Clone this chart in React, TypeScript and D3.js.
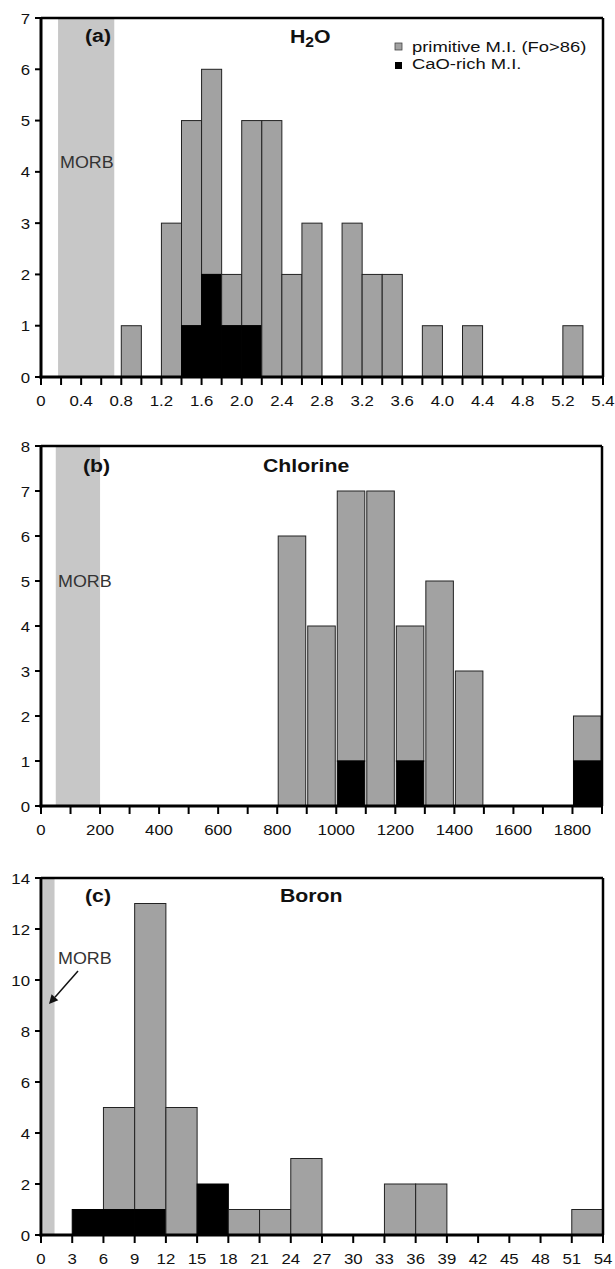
import React from "react";
import * as d3 from "d3";

// ---------- data ----------
const h2oBinStart = [0.8, 1.2, 1.4, 1.6, 1.8, 2.0, 2.2, 2.4, 2.6, 3.0, 3.2, 3.4, 3.8, 4.2, 5.2];
const h2oPrimitive = [1, 3, 4, 4, 1, 4, 5, 2, 3, 3, 2, 2, 1, 1, 1];
const h2oCaORich = [0, 0, 1, 2, 1, 1, 0, 0, 0, 0, 0, 0, 0, 0, 0];
const h2oTickLabels = ["0", "0.4", "0.8", "1.2", "1.6", "2.0", "2.4", "2.8", "3.2", "3.6", "4.0", "4.4", "4.8", "5.2", "5.4"];

const clBinStart = [800, 900, 1000, 1100, 1200, 1300, 1400, 1800];
const clPrimitive = [6, 4, 6, 7, 3, 5, 3, 1];
const clCaORich = [0, 0, 1, 0, 1, 0, 0, 1];
const clTickLabels = ["0", "200", "400", "600", "800", "1000", "1200", "1400", "1600", "1800"];

const bBinStart = [3, 6, 9, 12, 15, 18, 21, 24, 33, 36, 51];
const bPrimitive = [0, 4, 12, 5, 0, 1, 1, 3, 2, 2, 1];
const bCaORich = [1, 1, 1, 0, 2, 0, 0, 0, 0, 0, 0];
const bTickLabels = ["0", "3", "6", "9", "12", "15", "18", "21", "24", "27", "30", "33", "36", "39", "42", "45", "48", "51", "54"];

const legendLabels = ["primitive M.I. (Fo>86)", "CaO-rich M.I."];

// ---------- style ----------
const GRAY = "#a2a2a2";
const BAND = "#c7c7c7";
const SX = 1.12;
const FONT = "'Liberation Sans', Arial, sans-serif";

function T({ x, y, size, weight = "normal", anchor = "start", fill = "#111", sx = SX, children }: any) {
  return (
    <g transform={`translate(${x},${y}) scale(${sx},1)`}>
      <text x={0} y={0} fontSize={size} fontWeight={weight} textAnchor={anchor} fill={fill} fontFamily={FONT}>
        {children}
      </text>
    </g>
  );
}

type PanelProps = {
  left: number; right: number; top: number; bottom: number;
  xMax: number; yMax: number; yStep: number;
  binW: number; bins: number[]; prim: number[]; cao: number[];
  tickStep: number; labelStep: number; labels: string[];
  band: [number, number]; gap: number;
};

function Panel(p: PanelProps) {
  const x = d3.scaleLinear().domain([0, p.xMax]).range([p.left, p.right]);
  const y = d3.scaleLinear().domain([0, p.yMax]).range([p.bottom, p.top]);
  const xTicks = d3.range(0, p.xMax + p.tickStep / 2, p.tickStep);
  const yTicks = d3.range(0, p.yMax + p.yStep / 2, p.yStep);
  return (
    <g>
      <rect x={x(p.band[0])} y={p.top} width={x(p.band[1]) - x(p.band[0])} height={p.bottom - p.top} fill={BAND} />
      {p.bins.map((b, i) => {
        const x0 = x(b) + p.gap;
        const w = x(b + p.binW) - x(b) - 2 * p.gap;
        const c = p.cao[i];
        const t = c + p.prim[i];
        return (
          <g key={i}>
            {p.prim[i] > 0 && (
              <rect x={x0} y={y(t)} width={w} height={y(c) - y(t)} fill={GRAY} stroke="#222" strokeWidth={1} />
            )}
            {c > 0 && <rect x={x0} y={y(c)} width={w} height={y(0) - y(c)} fill="#000" stroke="#000" strokeWidth={1} />}
          </g>
        );
      })}
      {/* frame */}
      <line x1={p.left} x2={p.right} y1={p.top} y2={p.top} stroke="#000" strokeWidth={2.5} />
      <line x1={p.right} x2={p.right} y1={p.top} y2={p.bottom} stroke="#000" strokeWidth={2.5} />
      <line x1={p.left} x2={p.left} y1={p.top - 1} y2={p.bottom + 1.5} stroke="#000" strokeWidth={3} />
      <line x1={p.left - 1.5} x2={p.right + 1} y1={p.bottom} y2={p.bottom} stroke="#000" strokeWidth={3} />
      {yTicks.map((v) => (
        <g key={"y" + v}>
          <line x1={p.left - 6} x2={p.left} y1={y(v)} y2={y(v)} stroke="#000" strokeWidth={2} />
          <T x={p.left - 11} y={y(v) + 5.5} size={15} anchor="end">{String(v)}</T>
        </g>
      ))}
      {xTicks.map((v, i) => (
        <line key={"x" + i} x1={x(v)} x2={x(v)} y1={p.bottom} y2={p.bottom + 8} stroke="#000" strokeWidth={2} />
      ))}
      {p.labels.map((l, i) => (
        <T key={"l" + i} x={x(i * p.labelStep)} y={p.bottom + 29} size={15} anchor="middle">{l}</T>
      ))}
    </g>
  );
}

export default function App() {
  const arrowFrom = [78, 971];
  const arrowTo = [49, 1004];
  const ang = Math.atan2(arrowTo[1] - arrowFrom[1], arrowTo[0] - arrowFrom[0]);
  const ah = 9;
  const aw = 4.5;
  const bx = arrowTo[0] - ah * Math.cos(ang);
  const by = arrowTo[1] - ah * Math.sin(ang);
  const head = `${arrowTo[0]},${arrowTo[1]} ${bx + aw * Math.sin(ang)},${by - aw * Math.cos(ang)} ${bx - aw * Math.sin(ang)},${by + aw * Math.cos(ang)}`;
  return (
    <svg width={615} height={1269} style={{ position: "absolute", left: 0, top: 0, background: "#fff" }}>
      <rect width={615} height={1269} fill="#fff" />
      {/* (a) */}
      <Panel left={41} right={603} top={18} bottom={377} xMax={5.6} yMax={7} yStep={1}
        binW={0.2} bins={h2oBinStart} prim={h2oPrimitive} cao={h2oCaORich}
        tickStep={0.2} labelStep={0.4} labels={h2oTickLabels} band={[0.17, 0.73]} gap={0} />
      <T x={85} y={42} size={19} weight="bold">(a)</T>
      <g transform={`translate(290,43) scale(${SX},1)`}>
        <text fontSize={19} fontWeight="bold" fontFamily={FONT} fill="#111">
          H<tspan fontSize={14} dy={4}>2</tspan><tspan dy={-4}>O</tspan>
        </text>
      </g>
      <T x={60} y={168} size={16} fill="#333">MORB</T>
      <rect x={395} y={43} width={7} height={7} fill={GRAY} stroke="#444" strokeWidth={0.8} />
      <rect x={395} y={62} width={7} height={7} fill="#000" />
      <T x={412} y={52} size={14.5} sx={1.27}>{legendLabels[0]}</T>
      <T x={412} y={69} size={14.5} sx={1.27}>{legendLabels[1]}</T>

      {/* (b) */}
      <Panel left={41} right={602} top={446} bottom={806} xMax={1900} yMax={8} yStep={1}
        binW={100} bins={clBinStart} prim={clPrimitive} cao={clCaORich}
        tickStep={100} labelStep={200} labels={clTickLabels} band={[50, 200]} gap={1} />
      <T x={83} y={472} size={19} weight="bold">(b)</T>
      <T x={263} y={472} size={19} weight="bold">Chlorine</T>
      <T x={58} y={587} size={16} fill="#333">MORB</T>

      {/* (c) */}
      <Panel left={41} right={603} top={878} bottom={1235} xMax={54} yMax={14} yStep={2}
        binW={3} bins={bBinStart} prim={bPrimitive} cao={bCaORich}
        tickStep={3} labelStep={3} labels={bTickLabels} band={[0.2, 1.3]} gap={0} />
      <T x={85} y={902} size={19} weight="bold">(c)</T>
      <T x={280} y={902} size={19} weight="bold">Boron</T>
      <T x={58} y={964} size={16} fill="#333">MORB</T>
      <line x1={arrowFrom[0]} y1={arrowFrom[1]} x2={bx} y2={by} stroke="#111" strokeWidth={1.5} />
      <polygon points={head} fill="#111" />
    </svg>
  );
}
